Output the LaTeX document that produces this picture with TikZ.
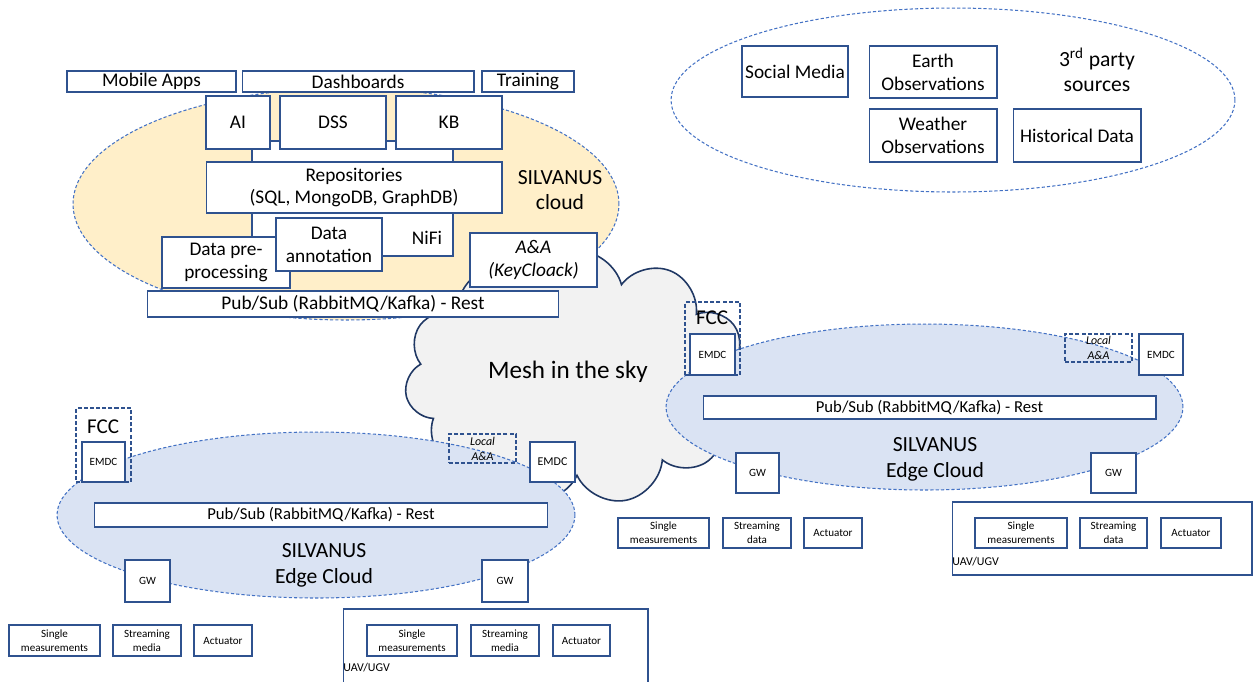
\documentclass[tikz,border=0pt]{standalone}
\usepackage{fontspec}
\setmainfont{Carlito}
\usetikzlibrary{shapes.geometric,shapes.symbols}

\definecolor{zoneline}{HTML}{4472C4}
\definecolor{boxline}{HTML}{2F528F}
\definecolor{corefill}{HTML}{FFEFC9}
\definecolor{edgefill}{HTML}{DAE3F3}
\definecolor{meshfill}{HTML}{F2F2F2}
\definecolor{meshline}{HTML}{203864}

\begin{document}
\begin{tikzpicture}[
    x=0.02cm, y=-0.02cm,
    box/.style={draw=boxline, fill=white, line width=0.6pt, align=center, inner sep=1pt, font=\fontsize{11}{13}\selectfont},
    tiny/.style={box, font=\fontsize{6.3}{7.9}\selectfont},
    dbox/.style={draw=boxline, line width=0.75pt, dash pattern=on 2.3pt off 1.2pt, inner sep=0pt, align=center},
    zone/.style={ellipse, draw=zoneline, line width=0.6pt, dash pattern=on 1.8pt off 1.2pt, inner sep=0pt},
    lbl/.style={align=center, inner sep=0pt}
]
\path[use as bounding box, clip] (0,0) rectangle (1253,681);

% SILVANUS core cloud
\node[zone, fill=corefill, minimum width=10.92cm, minimum height=4.64cm] (core) at (346,204) {};
\node[cloud, cloud puffs=11, cloud ignores aspect, draw=meshline, fill=meshfill, line width=0.9pt,
      minimum width=6.9cm, minimum height=5.1cm] (mesh) at (577,378) {};
\node[lbl, font=\fontsize{14.3}{17}\selectfont] (meshtxt) at (568,372) {Mesh in the sky};

\node[box, minimum width=3.38cm, minimum height=0.42cm] (apps) at (151.5,81.5) {Mobile Apps};
\node[box, minimum width=4.64cm, minimum height=0.42cm] (dash) at (358,81.5) {Dashboards};
\node[box, minimum width=1.84cm, minimum height=0.42cm] (train) at (528,81.5) {Training};
\node[box, minimum width=4.02cm, minimum height=2.30cm] (nifi) at (352.5,198.5) {};
\node[lbl, font=\fontsize{11}{13}\selectfont] (nifitxt) at (427,238) {NiFi};
\node[box, minimum width=1.28cm, minimum height=1.06cm] (ai) at (238,122.5) {AI};
\node[box, minimum width=2.12cm, minimum height=1.06cm] (dss) at (333,122.5) {DSS};
\node[box, minimum width=2.12cm, minimum height=1.06cm] (kb) at (449,122.5) {KB};
\node[box, minimum width=5.92cm, minimum height=1.02cm] (repo) at (354,187.5) {Repositories\\(SQL, MongoDB, GraphDB)};
\node[box, minimum width=2.56cm, minimum height=1.02cm] (prep) at (226,262.5) {Data pre-\\processing};
\node[box, minimum width=2.12cm, minimum height=1.06cm] (annot) at (329,244.5) {Data\\annotation};
\node[box, minimum width=2.54cm, minimum height=1.08cm, font=\fontsize{11}{13}\selectfont\itshape] (auth) at (533.5,260) {A\&A\\(KeyCloack)};
\node[box, minimum width=8.24cm, minimum height=0.52cm] (bus) at (353,304) {Pub/Sub (RabbitMQ/Kafka) - Rest};
\node[lbl, font=\fontsize{12.3}{14.5}\selectfont] (coretxt) at (560,190) {SILVANUS\\cloud};

% 3rd party sources
\node[zone, minimum width=11.28cm, minimum height=3.68cm] (third) at (953,100) {};
\node[box, minimum width=2.12cm, minimum height=1.02cm] (social) at (795,71.5) {Social Media};
\node[box, minimum width=2.56cm, minimum height=1.04cm] (earth) at (933,72) {Earth\\Observations};
\node[box, minimum width=2.56cm, minimum height=1.06cm] (weather) at (933,135.5) {Weather\\Observations};
\node[box, minimum width=2.56cm, minimum height=1.06cm] (hist) at (1077,135.5) {Historical Data};
\node[lbl, font=\fontsize{12.3}{14.2}\selectfont] (thirdtxt) at (1097,70) {3\textsuperscript{rd} party\\sources};

% left edge cloud
\node[zone, fill=edgefill, minimum width=10.36cm, minimum height=3.32cm] (edgeL) at (316,515) {};
\node[dbox, minimum width=1.10cm, minimum height=1.48cm] (fccL) at (103.5,445) {};
\node[lbl, font=\fontsize{12}{14}\selectfont] (fccLtxt) at (103,427) {FCC};
\node[tiny, minimum width=0.86cm, minimum height=0.80cm] (emdcL1) at (103.5,462) {EMDC};
\node[dbox, minimum width=1.34cm, minimum height=0.58cm, font=\fontsize{6.8}{8.5}\selectfont\itshape] (aaL) at (482.5,448.5) {Local\\A\&A};
\node[tiny, minimum width=0.90cm, minimum height=0.80cm, font=\fontsize{6.8}{8}\selectfont] (emdcL2) at (552.5,462) {EMDC};
\node[box, minimum width=9.08cm, minimum height=0.48cm, font=\fontsize{9.5}{11}\selectfont] (busL) at (321,515) {Pub/Sub (RabbitMQ/Kafka) - Rest};
\node[lbl, font=\fontsize{12.3}{14.7}\selectfont] (edgeLtxt) at (324,565) {SILVANUS\\Edge Cloud};
\node[tiny, minimum width=0.90cm, minimum height=0.84cm] (gwL1) at (147.5,581) {GW};
\node[tiny, minimum width=0.92cm, minimum height=0.84cm] (gwL2) at (505,581) {GW};
\node[tiny, minimum width=1.82cm, minimum height=0.62cm] (singleL1) at (54.5,640.5) {Single\\measurements};
\node[tiny, minimum width=1.36cm, minimum height=0.62cm] (streamL1) at (147,640.5) {Streaming\\media};
\node[tiny, minimum width=1.16cm, minimum height=0.62cm] (actL1) at (223,640.5) {Actuator};
\node[draw=boxline, line width=0.6pt, minimum width=6.10cm, minimum height=1.50cm] (uavL) at (495.5,646.5) {};
\node[lbl, anchor=west, font=\fontsize{6.8}{8}\selectfont] (uavLtxt) at (343,668) {UAV/UGV};
\node[tiny, minimum width=1.80cm, minimum height=0.62cm] (singleL2) at (412,640.5) {Single\\measurements};
\node[tiny, minimum width=1.36cm, minimum height=0.62cm] (streamL2) at (505,640.5) {Streaming\\media};
\node[tiny, minimum width=1.14cm, minimum height=0.62cm] (actL2) at (581.5,640.5) {Actuator};

% right edge cloud
\node[zone, fill=edgefill, minimum width=10.34cm, minimum height=3.32cm] (edgeR) at (924.5,407) {};
\node[dbox, minimum width=1.10cm, minimum height=1.46cm] (fccR) at (712.5,338.5) {};
\node[lbl, font=\fontsize{12}{14}\selectfont] (fccRtxt) at (712,318) {FCC};
\node[tiny, minimum width=0.90cm, minimum height=0.82cm] (emdcR1) at (712.5,354.5) {EMDC};
\node[dbox, minimum width=1.34cm, minimum height=0.56cm, font=\fontsize{6.8}{8.5}\selectfont\itshape] (aaR) at (1098.5,348) {Local\\A\&A};
\node[tiny, minimum width=0.88cm, minimum height=0.82cm] (emdcR2) at (1161,354.5) {EMDC};
\node[box, minimum width=9.06cm, minimum height=0.46cm, font=\fontsize{9.5}{11}\selectfont] (busR) at (929.5,407.5) {Pub/Sub (RabbitMQ/Kafka) - Rest};
\node[lbl, font=\fontsize{12.3}{14.7}\selectfont] (edgeRtxt) at (935,459) {SILVANUS\\Edge Cloud};
\node[tiny, minimum width=0.86cm, minimum height=0.80cm] (gwR1) at (757.5,473) {GW};
\node[tiny, minimum width=0.90cm, minimum height=0.80cm] (gwR2) at (1113.5,473) {GW};
\node[tiny, minimum width=1.82cm, minimum height=0.60cm] (singleR1) at (663.5,533) {Single\\measurements};
\node[tiny, minimum width=1.36cm, minimum height=0.60cm] (streamR1) at (757,533) {Streaming\\data};
\node[tiny, minimum width=1.16cm, minimum height=0.60cm] (actR1) at (833,533) {Actuator};
\node[draw=boxline, line width=0.6pt, minimum width=6.00cm, minimum height=1.46cm] (uavR) at (1102,538.5) {};
\node[lbl, anchor=west, font=\fontsize{6.8}{8}\selectfont] (uavRtxt) at (952,562) {UAV/UGV};
\node[tiny, minimum width=1.84cm, minimum height=0.60cm] (singleR2) at (1021,533) {Single\\measurements};
\node[tiny, minimum width=1.34cm, minimum height=0.60cm] (streamR2) at (1113.5,533) {Streaming\\data};
\node[tiny, minimum width=1.20cm, minimum height=0.60cm] (actR2) at (1191,533) {Actuator};
\end{tikzpicture}
\end{document}
